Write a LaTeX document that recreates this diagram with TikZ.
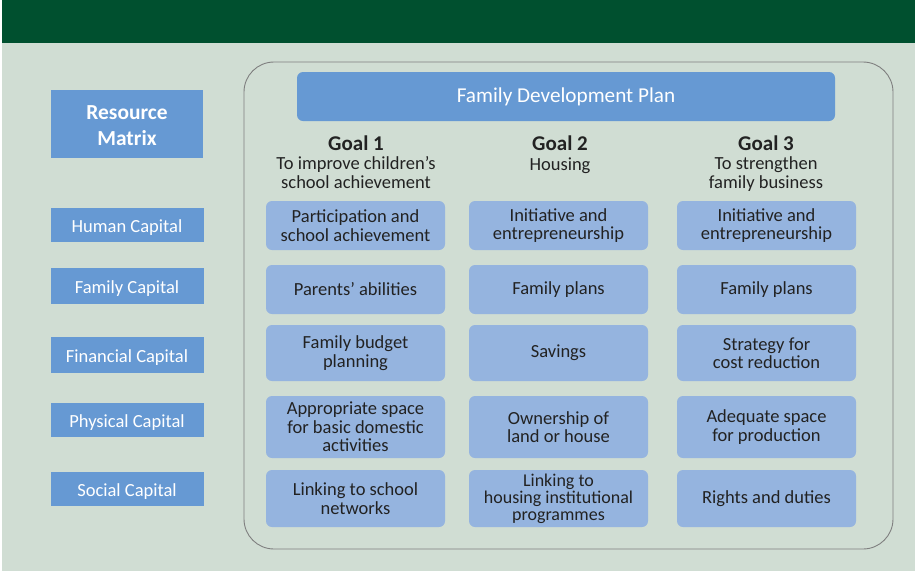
\documentclass[tikz,border=0pt]{standalone}
\usepackage{fontspec}
\setmainfont{Carlito}
\definecolor{darkgreen}{HTML}{00502F}
\definecolor{bgpale}{HTML}{D0DDD3}
\definecolor{boxblue}{HTML}{6699D3}
\definecolor{cellblue}{HTML}{95B4DF}
\definecolor{txtdark}{HTML}{222222}
\definecolor{framegray}{HTML}{7F7F7F}
\tikzset{
  cell/.style={fill=cellblue, rounded corners=6pt, minimum width=179pt, align=center,
    text=txtdark, inner sep=0pt, font=\fontsize{18.5}{18.5}\selectfont},
  capbox/.style={fill=boxblue, minimum width=153pt, minimum height=35pt, align=center,
    text=white, inner sep=0pt, text height=15pt, text depth=1pt, font=\fontsize{18.5}{18.5}\selectfont},
  goalhead/.style={text=txtdark, inner sep=0pt, font=\fontsize{21}{22}\selectfont\bfseries},
  goalsub/.style={text=txtdark, inner sep=0pt, align=center, font=\fontsize{18.5}{18.5}\selectfont},
}
\begin{document}
\begin{tikzpicture}[x=1pt,y=-1pt]
\useasboundingbox (0,0) rectangle (915,571);
\fill[white] (0,0) rectangle (915,571);
\fill[bgpale] (2,43) rectangle (915,571);
\fill[darkgreen] (2,0) rectangle (915,43);
% container
\draw[framegray, line width=0.9pt, rounded corners=30pt] (244,62) rectangle (893,549);
\node[fill=boxblue, rounded corners=6pt, minimum width=538pt, minimum height=49pt, inner sep=0pt,
  text=white, font=\fontsize{21.2}{24}\selectfont] (fdp) at (566,96.5) {Family Development Plan};
% resource matrix
\node[fill=boxblue, minimum width=152pt, minimum height=68pt, inner sep=0pt] (rm) at (127,124) {};
\node[inner sep=0pt, align=center, text=white, yshift=-2pt,
  font=\fontsize{21.4}{26}\selectfont\bfseries] (rmt) at (rm.center) {Resource\\Matrix};
\node[capbox, minimum height=34pt] (hc) at (127,225) {Human Capital};
\node[capbox, minimum height=36pt] (fc) at (127,286) {Family Capital};
\node[capbox, minimum height=36pt] (fic) at (127,355) {Financial Capital};
\node[capbox, minimum height=34pt] (pc) at (127,420) {Physical Capital};
\node[capbox, minimum height=34pt] (sc) at (127,489) {Social Capital};
% goals
\node[goalhead] (g1) at (356,143) {Goal 1};
\node[goalsub, anchor=north] (g1s) at (356,156.5) {To improve children’s\\school achievement};
\node[goalhead] (g2) at (560,143) {Goal 2};
\node[goalsub, anchor=north] (g2s) at (560,157.5) {Housing};
\node[goalhead] (g3) at (766,143) {Goal 3};
\node[goalsub, anchor=north] (g3s) at (766,156.5) {To strengthen\\family business};
% row 1
\node[cell, minimum height=49pt] (c11) at (355.5,225.5) {Participation and\\school achievement};
\node[cell, minimum height=49pt] (c12) at (558.5,225.5) {Initiative and\\entrepreneurship};
\node[cell, minimum height=49pt] (c13) at (766.5,225.5) {Initiative and\\entrepreneurship};
% row 2
\node[cell, minimum height=49pt] (c21) at (355.5,289.5) {Parents’ abilities};
\node[cell, minimum height=49pt] (c22) at (558.5,289.5) {Family plans};
\node[cell, minimum height=49pt] (c23) at (766.5,289.5) {Family plans};
% row 3
\node[cell, minimum height=56pt] (c31) at (355.5,353) {Family budget\\planning};
\node[cell, minimum height=56pt] (c32) at (558.5,353) {Savings};
\node[cell, minimum height=56pt] (c33) at (766.5,353) {Strategy for\\cost reduction};
% row 4
\node[cell, minimum height=62pt] (c41) at (355.5,427) {Appropriate space\\for basic domestic\\activities};
\node[cell, minimum height=62pt] (c42) at (558.5,427) {Ownership of\\land or house};
\node[cell, minimum height=62pt] (c43) at (766.5,427) {Adequate space\\for production};
% row 5
\node[cell, minimum height=57pt] (c51) at (355.5,498.5) {Linking to school\\networks};
\node[cell, minimum height=57pt, font=\fontsize{18}{17}\selectfont] (c52) at (558.5,498.5) {Linking to\\housing institutional\\programmes};
\node[cell, minimum height=57pt] (c53) at (766.5,498.5) {Rights and duties};
\end{tikzpicture}
\end{document}
